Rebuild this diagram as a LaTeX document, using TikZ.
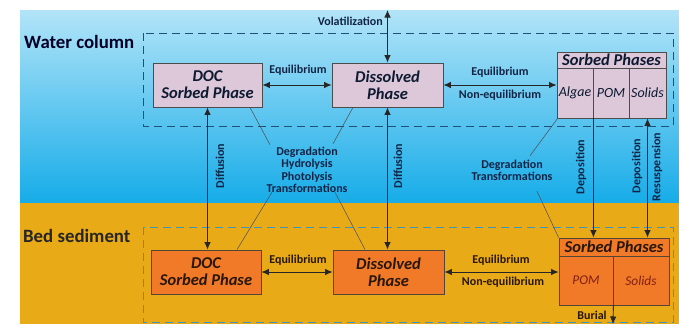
\documentclass[tikz,border=0pt]{standalone}
\usepackage{fontspec}
\setmainfont{Carlito}
\usepackage{tikz}
\usetikzlibrary{arrows.meta}

\definecolor{wtop}{RGB}{178,228,248}
\definecolor{wbot}{RGB}{22,172,232}
\definecolor{sed}{RGB}{232,170,22}
\definecolor{lav}{RGB}{220,200,216}
\definecolor{org}{RGB}{240,122,40}
\definecolor{navy}{RGB}{18,36,70}
\definecolor{dashu}{RGB}{30,80,120}
\definecolor{dashl}{RGB}{60,150,190}
\definecolor{brn}{RGB}{40,22,6}
\definecolor{rust}{RGB}{130,30,18}

\begin{document}
\begin{tikzpicture}[x=1pt, y=-1pt,
  ub/.style = {draw=black!70, fill=lav, line width=.8pt, minimum height=44pt, inner sep=0pt, align=center, text=navy!70!black, font=\bfseries\itshape\fontsize{16.5}{17}\selectfont},
  lb/.style = {ub, draw=brn!80, fill=org, text=brn},
  uc/.style = {draw=black!70, fill=lav, line width=.8pt, inner sep=0pt, minimum height=50pt, text=navy!70!black, font=\itshape\fontsize{14}{15}\selectfont},
  lc/.style = {uc, draw=brn!80, fill=org, minimum height=49pt, text=rust, font=\itshape\fontsize{13.4}{15}\selectfont},
  lab/.style = {inner sep=0pt, align=center, text=navy, font=\bfseries\fontsize{12}{12.5}\selectfont},
  head/.style = {inner sep=0pt, anchor=west, text=black!85!blue, font=\bfseries\fontsize{18.8}{20}\selectfont},
  arr/.style = {line width=.9pt, draw=black!85, >={Latex[length=7.5pt,width=6.5pt]}},
  thinline/.style = {line width=.5pt, draw=black!70},
  dashbox/.style = {line width=1pt, dash pattern=on 8pt off 5pt}]
\useasboundingbox (0,0) rectangle (679,324);
\fill[white] (0,0) rectangle (679,324);
\shade[top color=wtop, bottom color=wbot] (20,10) rectangle (679,203);
\fill[sed] (20,203) rectangle (679,324);
\draw[dashbox, dashu] (143,33) rectangle (673,126);
\draw[dashbox, dashl] (143,227) rectangle (673,322);

\node[head] (w) at (24,42) {Water column};
\node[head, text=black!85] (b) at (23,236) {Bed sediment};

\node[ub, minimum width=109pt] (u1) at (207.5,85) {DOC\\Sorbed Phase};
\node[ub, minimum width=111pt] (u2) at (387.5,85) {Dissolved\\Phase};
\node[uc, minimum height=16pt, minimum width=109pt, font=\bfseries\itshape\fontsize{16.5}{17}\selectfont] (s0) at (611.5,60) {Sorbed Phases};
\node[uc, minimum width=36pt] (s1) at (575,93) {Algae};
\node[uc, minimum width=36pt] (s2) at (611,93) {POM};
\node[uc, minimum width=37pt] (s3) at (647.5,93) {Solids};

\node[lb, minimum width=110pt] (d1) at (206,272) {DOC\\Sorbed Phase};
\node[lb, minimum width=111pt] (d2) at (388.5,272) {Dissolved\\Phase};
\node[lc, minimum height=18pt, minimum width=110pt, text=brn, font=\bfseries\itshape\fontsize{16.5}{17}\selectfont] (t0) at (614,247) {Sorbed Phases};
\node[lc, minimum width=54pt] (t1) at (586,280.5) {POM};
\node[lc, minimum width=56pt] (t2) at (641,280.5) {Solids};

\coordinate (top) at (387.5,10);
\coordinate (bot) at (613,324);

\node[lab, anchor=east] (v) at (383,21) {Volatilization};
\node[lab] (e1) at (298,70) {Equilibrium};
\node[lab] (e2) at (500,72) {Equilibrium};
\node[lab] (n2) at (500,95) {Non-equilibrium};
\node[lab, rotate=90] (f1) at (220,166) {Diffusion};
\node[lab, rotate=90] (f2) at (398,166) {Diffusion};
\node[lab] (g1) at (307,170) {Degradation\\Hydrolysis\\Photolysis\\Transformations};
\node[lab] (g2) at (512,170.5) {Degradation\\Transformations};
\node[lab, rotate=90] (p1) at (581,167) {Deposition};
\node[lab, rotate=90] (p2) at (637,166) {Deposition};
\node[lab, rotate=90] (r2) at (657,167) {Resuspension};
\node[lab, text=brn] (e3) at (298,260) {Equilibrium};
\node[lab, text=brn] (e4) at (501,260) {Equilibrium};
\node[lab, text=brn] (n4) at (503,282) {Non-equilibrium};
\node[lab, text=brn] (b1) at (592,315) {Burial};

\draw[arr, <->] (top) -- (u2.north);
\draw[arr, <->] (u1.east) -- (u2.west);
\draw[arr, <->] (u2.east) -- (u2.east -| s1.west);
\draw[arr, <->] (u1.south) -- (u1.south |- d1.north);
\draw[arr, <->] (u2.south) -- (u2.south |- d2.north);
\draw[arr, ->] (s1.south east) -- (s1.south east |- t0.north);
\draw[arr, <->] (s3.south) -- (s3.south |- t0.north);
\draw[arr, <->] (d1.east) -- (d2.west);
\draw[arr, <->] (d2.east) -- (d2.east -| t1.west);
\draw[arr, ->] (t1.south east) -- (bot);

\draw[thinline] (u1.south) ++(42.5,0) -- ([shift={(-37,-2)}]g1.north);
\draw[thinline] (u2.south) ++(-34.5,0) -- ([shift={(26,-3)}]g1.north);
\draw[thinline] (d1.north) ++(31,0) -- ([shift={(-35,-1)}]g1.south);
\draw[thinline] (d2.north) ++(-23.5,0) -- ([shift={(28,-1)}]g1.south);
\draw[thinline] (s1.south west) ++(1,0) -- ([shift={(18,-4)}]g2.north);
\draw[thinline] (t0.north west) -- ([shift={(25,10)}]g2.south);
\end{tikzpicture}
\end{document}
